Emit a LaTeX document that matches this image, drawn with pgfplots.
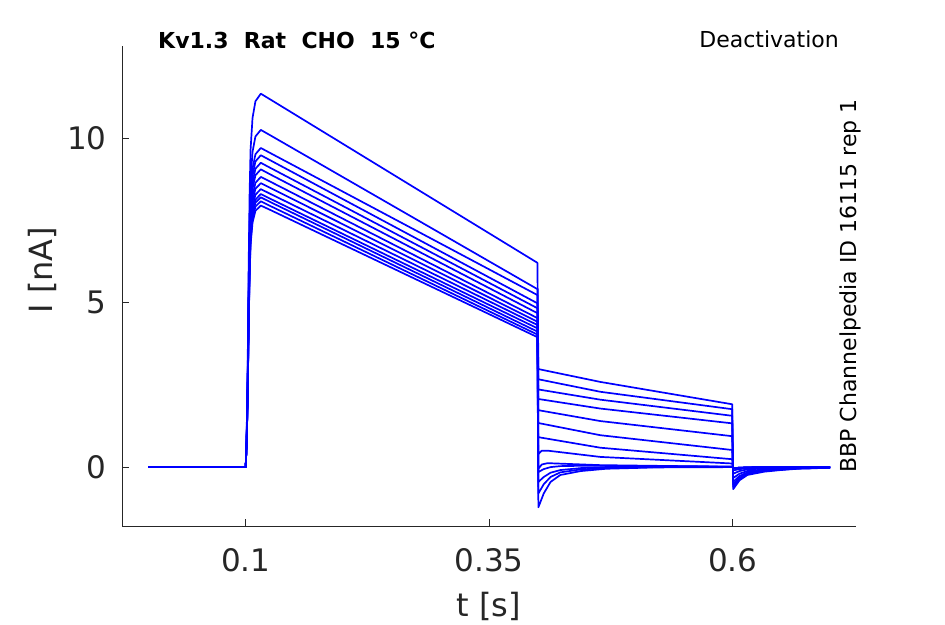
\documentclass[border=0pt]{standalone}
\usepackage{fontspec}
\setmainfont{DejaVu Sans}
\usepackage{pgfplots}
\pgfplotsset{compat=1.18}
\definecolor{axgray}{rgb}{0.15,0.15,0.15}
\pgfplotsset{trace/.style={color=blue, line width=1.7pt, line join=round, mark=none, solid}}
\begin{document}
\begin{tikzpicture}[x=1pt,y=1pt]
\useasboundingbox (0,0) rectangle (945,624);
\begin{axis}[at={(122pt,98pt)}, anchor=south west, scale only axis,
  width=734pt, height=480pt,
  xmin=-0.027, xmax=0.7266, ymin=-1.79, ymax=12.8,
  axis x line*=bottom, axis y line*=left,
  axis line style={-, draw=axgray, line width=0.9pt},
  x axis line style={-}, y axis line style={-},
  tick align=inside, major tick length=7pt,
  every tick/.style={draw=axgray, line width=0.9pt},
  xtick={0.1,0.35,0.6}, xticklabels={0.1,0.35,0.6},
  ytick={0,5,10}, yticklabels={0,5,10},
  tick label style={font=\fontsize{31}{36}\selectfont, text=axgray},
  xticklabel style={yshift=-19pt},
  yticklabel style={xshift=-12pt},
  /pgf/number format/assume math mode=true,
  xlabel={t [s]}, ylabel={I [nA]},
  label style={font=\fontsize{32}{37}\selectfont, text=axgray},
  xlabel style={at={(axis description cs:0.5,0)}, anchor=center, yshift=-80pt},
  ylabel style={at={(axis description cs:-0.109,0.533)}, anchor=center},
]
\addplot[trace] coordinates {(0,0)(0.1,0)(0.101,1.02)(0.102,2.95)(0.103,6.02)(0.104,8.29)(0.105,9.65)(0.107,10.61)(0.110,11.12)(0.1155,11.35)(0.125,11.18)(0.3995,6.21)
 (0.4005,2.98)(0.464,2.59)(0.5995,1.91)
 (0.6005,-0.67)(0.607,-0.40)(0.615,-0.24)(0.632,-0.14)(0.649,-0.09)(0.667,-0.05)(0.7,-0.02)};
\addplot[trace] coordinates {(0,0)(0.1,0)(0.101,0.92)(0.102,2.67)(0.103,5.43)(0.104,7.48)(0.105,8.71)(0.107,9.58)(0.110,10.05)(0.1155,10.25)(0.125,10.09)(0.3995,5.41)
 (0.4005,2.67)(0.464,2.29)(0.5995,1.76)
 (0.6005,-0.60)(0.607,-0.36)(0.615,-0.21)(0.632,-0.12)(0.649,-0.08)(0.667,-0.04)(0.7,-0.02)};
\addplot[trace] coordinates {(0,0)(0.1,0)(0.101,0.87)(0.102,2.52)(0.103,5.14)(0.104,7.08)(0.105,8.25)(0.107,9.07)(0.110,9.51)(0.1155,9.70)(0.125,9.55)(0.3995,5.23)
 (0.4005,2.36)(0.464,2.05)(0.5995,1.56)
 (0.6005,-0.53)(0.607,-0.32)(0.615,-0.19)(0.632,-0.11)(0.649,-0.07)(0.667,-0.04)(0.7,-0.02)};
\addplot[trace] coordinates {(0,0)(0.1,0)(0.101,0.85)(0.102,2.46)(0.103,5.02)(0.104,6.92)(0.105,8.06)(0.107,8.86)(0.110,9.29)(0.1155,9.48)(0.125,9.33)(0.3995,4.98)
 (0.4005,2.07)(0.464,1.78)(0.5995,1.33)
 (0.6005,-0.45)(0.607,-0.27)(0.615,-0.16)(0.632,-0.09)(0.649,-0.06)(0.667,-0.03)(0.7,-0.01)};
\addplot[trace] coordinates {(0,0)(0.1,0)(0.101,0.83)(0.102,2.41)(0.103,4.90)(0.104,6.75)(0.105,7.86)(0.107,8.65)(0.110,9.07)(0.1155,9.25)(0.125,9.10)(0.3995,4.83)
 (0.4005,1.73)(0.464,1.40)(0.5995,0.94)
 (0.6005,-0.33)(0.607,-0.20)(0.615,-0.12)(0.632,-0.07)(0.649,-0.04)(0.667,-0.02)(0.7,-0.01)};
\addplot[trace] coordinates {(0,0)(0.1,0)(0.101,0.81)(0.102,2.35)(0.103,4.80)(0.104,6.61)(0.105,7.69)(0.107,8.46)(0.110,8.87)(0.1155,9.05)(0.125,8.90)(0.3995,4.68)
 (0.4005,1.34)(0.464,0.97)(0.5995,0.52)
 (0.6005,-0.20)(0.607,-0.12)(0.615,-0.07)(0.632,-0.04)(0.649,-0.03)(0.667,-0.02)(0.7,-0.01)};
\addplot[trace] coordinates {(0,0)(0.1,0)(0.101,0.79)(0.102,2.29)(0.103,4.67)(0.104,6.44)(0.105,7.50)(0.107,8.25)(0.110,8.64)(0.1155,8.82)(0.125,8.68)(0.3995,4.53)
 (0.4005,0.91)(0.464,0.59)(0.5995,0.24)
 (0.6005,-0.10)(0.607,-0.06)(0.615,-0.04)(0.632,-0.03)(0.649,-0.02)(0.667,-0.01)(0.7,0)};
\addplot[trace] coordinates {(0,0)(0.1,0)(0.101,0.78)(0.102,2.24)(0.103,4.57)(0.104,6.30)(0.105,7.34)(0.107,8.07)(0.110,8.46)(0.1155,8.63)(0.125,8.49)(0.3995,4.42)
 (0.4005,0.40)(0.404,0.50)(0.41,0.50)(0.464,0.31)(0.5995,0.11)
 (0.6005,-0.05)(0.607,-0.03)(0.615,-0.02)(0.632,-0.01)(0.649,-0.01)(0.667,0)(0.7,0)};
\addplot[trace] coordinates {(0,0)(0.1,0)(0.101,0.76)(0.102,2.20)(0.103,4.48)(0.104,6.17)(0.105,7.18)(0.107,7.90)(0.110,8.28)(0.1155,8.45)(0.125,8.31)(0.3995,4.32)
 (0.4005,-0.05)(0.404,0.08)(0.41,0.12)(0.464,0.06)(0.5995,0.01)
 (0.6005,-0.03)(0.607,-0.02)(0.615,-0.01)(0.632,0)(0.7,0)};
\addplot[trace] coordinates {(0,0)(0.1,0)(0.101,0.75)(0.102,2.16)(0.103,4.40)(0.104,6.06)(0.105,7.06)(0.107,7.76)(0.110,8.13)(0.1155,8.30)(0.125,8.16)(0.3995,4.22)
 (0.4005,-0.15)(0.406,-0.06)(0.413,0.0)(0.423,0.03)(0.444,0.04)(0.5995,0.02)
 (0.6005,-0.03)(0.607,-0.02)(0.615,-0.01)(0.632,0)(0.7,0)};
\addplot[trace] coordinates {(0,0)(0.1,0)(0.101,0.74)(0.102,2.13)(0.103,4.35)(0.104,5.99)(0.105,6.97)(0.107,7.67)(0.110,8.04)(0.1155,8.20)(0.125,8.06)(0.3995,4.12)
 (0.4005,-0.45)(0.406,-0.30)(0.413,-0.17)(0.423,-0.09)(0.444,-0.03)(0.47,0.0)(0.5995,0.0)
 (0.6005,-0.03)(0.607,-0.02)(0.615,-0.01)(0.632,0)(0.7,0)};
\addplot[trace] coordinates {(0,0)(0.1,0)(0.101,0.73)(0.102,2.10)(0.103,4.28)(0.104,5.90)(0.105,6.87)(0.107,7.55)(0.110,7.92)(0.1155,8.08)(0.125,7.94)(0.3995,4.03)
 (0.4005,-0.80)(0.406,-0.52)(0.413,-0.30)(0.423,-0.16)(0.444,-0.07)(0.47,-0.03)(0.52,0)(0.5995,0)
 (0.6005,-0.03)(0.607,-0.02)(0.615,-0.01)(0.632,0)(0.7,0)};
\addplot[trace] coordinates {(0,0)(0.1,0)(0.101,0.72)(0.102,2.07)(0.103,4.21)(0.104,5.80)(0.105,6.76)(0.107,7.43)(0.110,7.79)(0.1155,7.95)(0.125,7.82)(0.3995,3.95)
 (0.4005,-1.22)(0.406,-0.80)(0.413,-0.45)(0.423,-0.24)(0.444,-0.12)(0.47,-0.05)(0.52,-0.01)(0.5995,0)
 (0.6005,-0.03)(0.607,-0.02)(0.615,-0.01)(0.632,0)(0.7,0)};
\end{axis}
\node[anchor=west, inner sep=0pt, font=\fontsize{22}{26}\selectfont\bfseries] at (158,584) {Kv1.3~~Rat~~CHO~~15 °C};
\node[anchor=east, inner sep=0pt, font=\fontsize{22}{26}\selectfont] at (839,585) {Deactivation};
\node[rotate=90, inner sep=0pt, font=\fontsize{22}{26}\selectfont] at (850,338) {BBP Channelpedia ID 16115 rep 1};
\end{tikzpicture}
\end{document}
